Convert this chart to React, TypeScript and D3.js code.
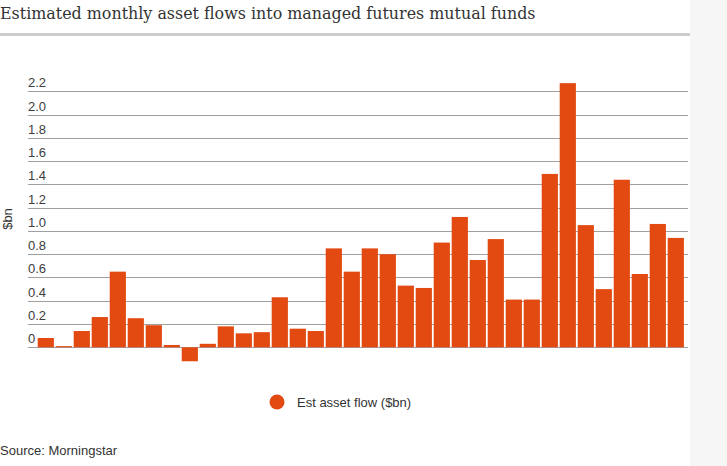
import React, { useEffect, useRef } from 'react';
import * as d3 from 'd3';

// Estimated monthly asset flows, $bn (36 months)
const flows = [
  0.08, 0.01, 0.14, 0.26, 0.65, 0.25, 0.19, 0.02, -0.12, 0.03, 0.18, 0.12,
  0.13, 0.43, 0.16, 0.14, 0.85, 0.65, 0.85, 0.80, 0.53, 0.51, 0.90, 1.12,
  0.75, 0.93, 0.41, 0.41, 1.49, 2.27, 1.05, 0.50, 1.44, 0.63, 1.06, 0.94,
];
const months = flows.map((_, i) => `m${i + 1}`);
const yTicks = [0, 0.2, 0.4, 0.6, 0.8, 1.0, 1.2, 1.4, 1.6, 1.8, 2.0, 2.2];

const W = 727;
const H = 466;
const ORANGE = '#e34a11';
const SANS = '"Liberation Sans", Arial, sans-serif';

export default function App() {
  const svgRef = useRef<SVGSVGElement>(null);

  useEffect(() => {
    if (!svgRef.current) return;
    const svg = d3.select(svgRef.current);
    svg.selectAll('*').remove();

    // grey strip on the right
    svg.append('rect')
      .attr('x', 690).attr('y', 0).attr('width', W - 690).attr('height', H)
      .attr('fill', '#f6f6f6');

    // title
    svg.append('text')
      .attr('x', 0).attr('y', 19)
      .attr('fill', '#333')
      .style('font-family', '"DejaVu Serif", serif')
      .style('font-size', '15.9px')
      .text('Estimated monthly asset flows into managed futures mutual funds');

    svg.append('rect')
      .attr('x', 0).attr('y', 33).attr('width', 690).attr('height', 3)
      .attr('fill', '#cccccc');

    const x = d3.scaleBand<string>()
      .domain(months)
      .range([36.8, 684.8])
      .paddingInner(0.1)
      .paddingOuter(0.05);

    const y = d3.scaleLinear()
      .domain([0, 2.2])
      .range([347.3, 91.3]);

    // gridlines + labels
    const grid = svg.append('g');
    grid.selectAll('line')
      .data(yTicks)
      .enter().append('line')
      .attr('x1', 28).attr('x2', 688)
      .attr('y1', d => Math.round(y(d)) + 0.5)
      .attr('y2', d => Math.round(y(d)) + 0.5)
      .attr('stroke', '#a0a0a0')
      .attr('stroke-width', 1);

    grid.selectAll('text')
      .data(yTicks)
      .enter().append('text')
      .attr('x', 28)
      .attr('y', d => y(d) - 4)
      .attr('fill', '#3d3d3d')
      .style('font-family', SANS)
      .style('font-size', '13px')
      .text(d => (d === 0 ? '0' : d3.format('.1f')(d)));

    svg.append('text')
      .attr('transform', 'translate(12,219) rotate(-90)')
      .attr('text-anchor', 'middle')
      .attr('fill', '#333')
      .style('font-family', SANS)
      .style('font-size', '13px')
      .text('$bn');

    // bars
    svg.append('g')
      .selectAll('rect')
      .data(flows)
      .enter().append('rect')
      .attr('x', (_, i) => x(months[i])!)
      .attr('width', x.bandwidth())
      .attr('y', d => y(Math.max(0, d)))
      .attr('height', d => Math.abs(y(d) - y(0)))
      .attr('fill', ORANGE);

    // legend
    svg.append('circle')
      .attr('cx', 277).attr('cy', 402).attr('r', 7.5)
      .attr('fill', ORANGE);
    svg.append('text')
      .attr('x', 297).attr('y', 406.5)
      .attr('fill', '#333')
      .style('font-family', SANS)
      .style('font-size', '13px')
      .text('Est asset flow ($bn)');

    // source
    svg.append('text')
      .attr('x', 0).attr('y', 455)
      .attr('fill', '#333')
      .style('font-family', SANS)
      .style('font-size', '13px')
      .text('Source: Morningstar');
  }, []);

  return (
    <div style={{ position: 'fixed', left: 0, top: 0, background: '#fff' }}>
      <svg ref={svgRef} width={W} height={H} style={{ display: 'block' }}></svg>
    </div>
  );
}
